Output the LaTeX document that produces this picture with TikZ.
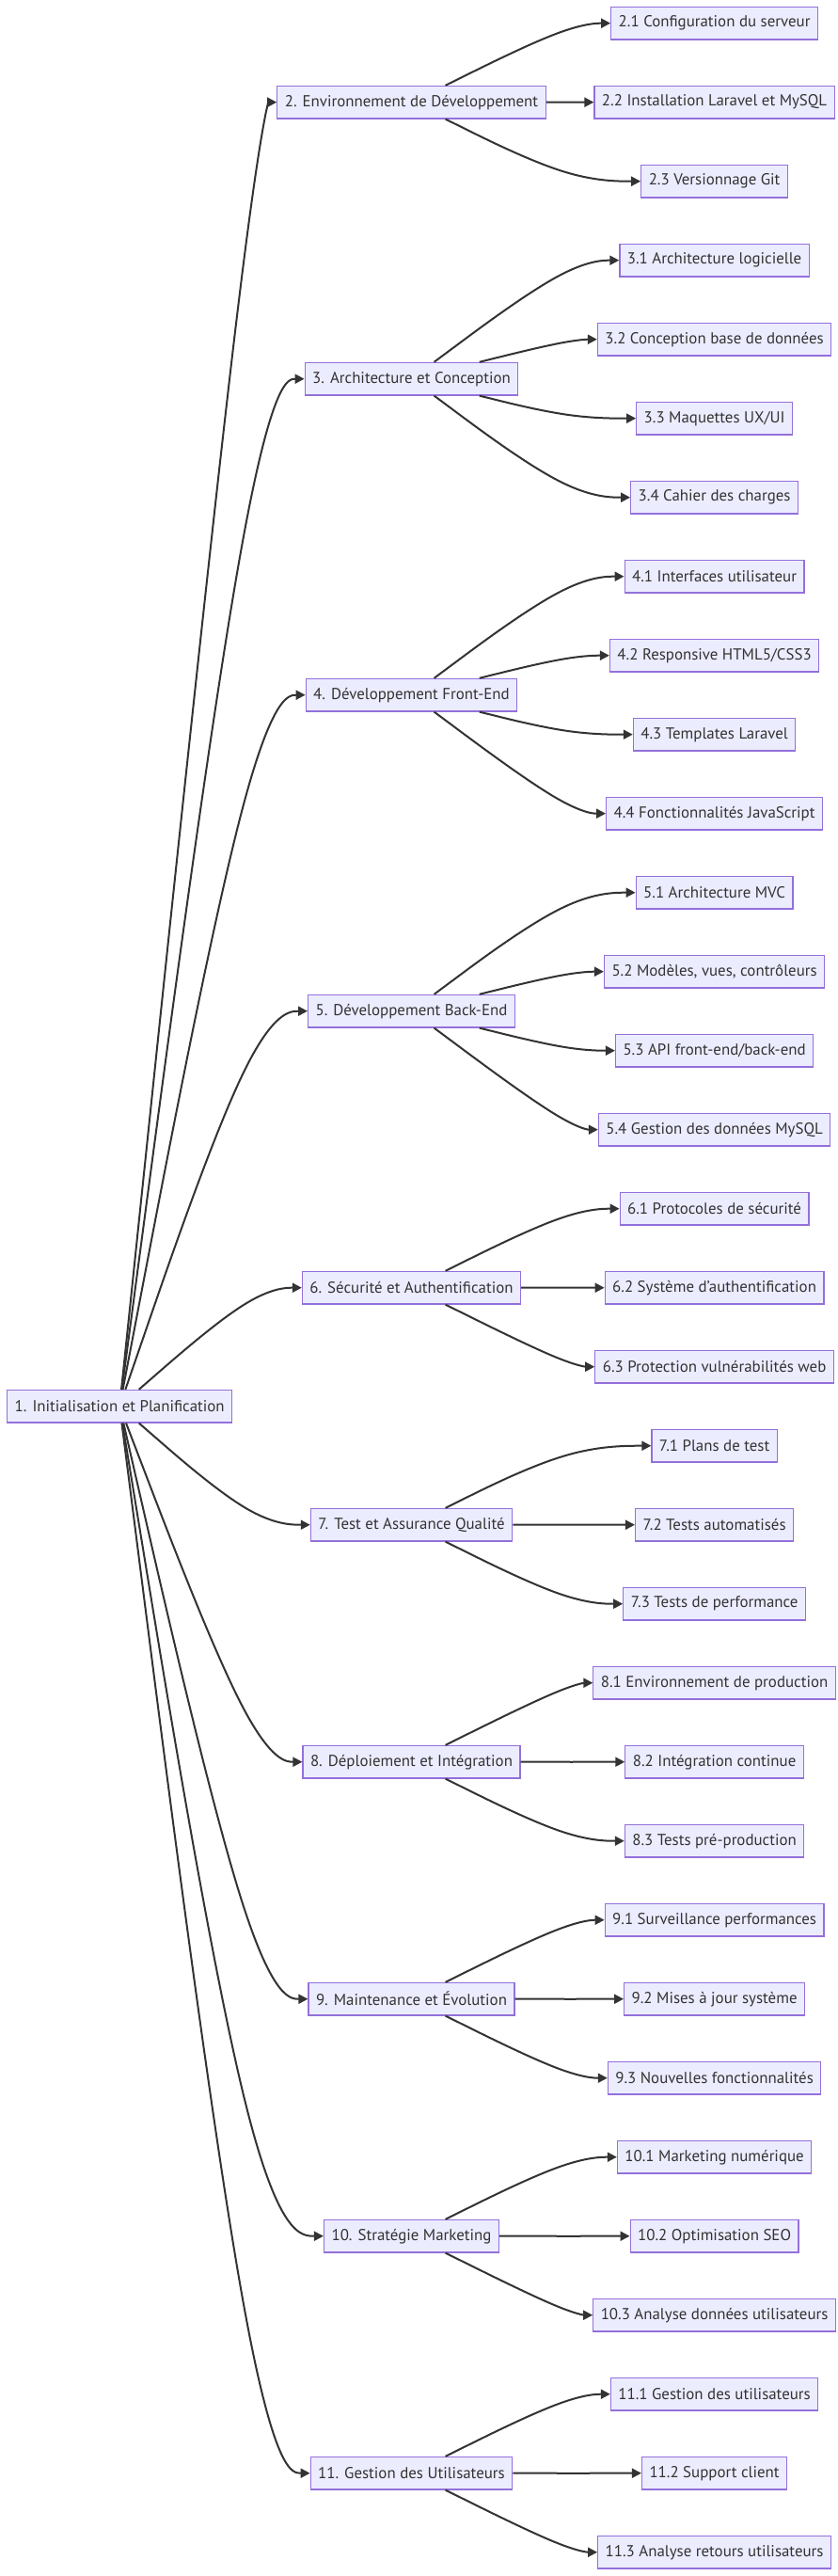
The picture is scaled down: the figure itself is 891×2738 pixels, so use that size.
\documentclass[tikz,border=0pt]{standalone}
\usepackage{fontspec}
\setmainfont{PT Sans}
\usetikzlibrary{arrows.meta,calc}
\definecolor{mfill}{HTML}{ECECFF}
\definecolor{mborder}{HTML}{9370DB}
\definecolor{mtext}{HTML}{333333}
\newlength{\mmref}
\newcommand\mmedge[3]{%
  \coordinate (mmB) at (#2.west -| #3);
  \path (#1) -- (mmB) coordinate[pos=0] (mmA);
  \draw[mmline] (mmA) -- ($(mmA)!1/6!(mmB)$)
    .. controls ($(mmA)!1/3!(mmB)$) and ($(mmA)!2/3!(mmB)$)
    .. ($0.16667*(mmA)+0.66667*(mmB)+0.16667*(#2.west)$)
    .. controls ($(mmB)!1/3!(#2.west)$) and ($(mmB)!2/3!(#2.west)$) .. (#2.west);
}
\begin{document}
\settowidth{\mmref}{\fontsize{10pt}{12pt}\selectfont 1. Initialisation et Planification}%
\pgfmathsetmacro{\mmfs}{2230/\mmref}%
\begin{tikzpicture}[x=1pt,y=-1pt]
\tikzset{
  box/.style={draw=mborder, fill=mfill, line width=1.2pt, text=mtext,
    font=\fontsize{\mmfs pt}{\mmfs pt}\selectfont, inner xsep=8pt, inner ysep=0pt,
    minimum height=34.6pt, anchor=center},
  mmline/.style={draw=mtext, line width=2pt, -{Triangle[length=10pt,width=10pt]}}
}
\useasboundingbox (0,0) rectangle (891,2738);
\coordinate (g1) at (272,0);
\coordinate (g2) at (607,0);
% level 1
\node[box] (n1) at (127.2,1494.7) {1. Initialisation et Planification};
% level 2
\node[box] (n2) at (437.5,108.7) {2. Environnement de Développement};
\node[box] (n3) at (437.5,402.7) {3. Architecture et Conception};
\node[box] (n4) at (437.5,738.7) {4. Développement Front-End};
\node[box] (n5) at (437.5,1074.7) {5. Développement Back-End};
\node[box] (n6) at (437.5,1368.7) {6. Sécurité et Authentification};
\node[box] (n7) at (437.5,1620.7) {7. Test et Assurance Qualité};
\node[box] (n8) at (437.5,1872.7) {8. Déploiement et Intégration};
\node[box] (n9) at (437.5,2124.7) {9. Maintenance et Évolution};
\node[box] (n10) at (437.5,2376.7) {10. Stratégie Marketing};
\node[box] (n11) at (437.5,2628.7) {11. Gestion des Utilisateurs};
% level 3
\node[box] (n21) at (759.6,24.7) {2.1 Configuration du serveur};
\node[box] (n22) at (759.6,108.7) {2.2 Installation Laravel et MySQL};
\node[box] (n23) at (759.6,192.7) {2.3 Versionnage Git};
\node[box] (n31) at (759.6,276.7) {3.1 Architecture logicielle};
\node[box] (n32) at (759.6,360.7) {3.2 Conception base de données};
\node[box] (n33) at (759.6,444.7) {3.3 Maquettes UX/UI};
\node[box] (n34) at (759.6,528.7) {3.4 Cahier des charges};
\node[box] (n41) at (759.6,612.7) {4.1 Interfaces utilisateur};
\node[box] (n42) at (759.6,696.7) {4.2 Responsive HTML5/CSS3};
\node[box] (n43) at (759.6,780.7) {4.3 Templates Laravel};
\node[box] (n44) at (759.6,864.7) {4.4 Fonctionnalités JavaScript};
\node[box] (n51) at (759.6,948.7) {5.1 Architecture MVC};
\node[box] (n52) at (759.6,1032.7) {5.2 Modèles, vues, contrôleurs};
\node[box] (n53) at (759.6,1116.7) {5.3 API front-end/back-end};
\node[box] (n54) at (759.6,1200.7) {5.4 Gestion des données MySQL};
\node[box] (n61) at (759.6,1284.7) {6.1 Protocoles de sécurité};
\node[box] (n62) at (759.6,1368.7) {6.2 Système d{\char39}authentification};
\node[box] (n63) at (759.6,1452.7) {6.3 Protection vulnérabilités web};
\node[box] (n71) at (759.6,1536.7) {7.1 Plans de test};
\node[box] (n72) at (759.6,1620.7) {7.2 Tests automatisés};
\node[box] (n73) at (759.6,1704.7) {7.3 Tests de performance};
\node[box] (n81) at (759.6,1788.7) {8.1 Environnement de production};
\node[box] (n82) at (759.6,1872.7) {8.2 Intégration continue};
\node[box] (n83) at (759.6,1956.7) {8.3 Tests pré-production};
\node[box] (n91) at (759.6,2040.7) {9.1 Surveillance performances};
\node[box] (n92) at (759.6,2124.7) {9.2 Mises à jour système};
\node[box] (n93) at (759.6,2208.7) {9.3 Nouvelles fonctionnalités};
\node[box] (n101) at (759.6,2292.7) {10.1 Marketing numérique};
\node[box] (n102) at (759.6,2376.7) {10.2 Optimisation SEO};
\node[box] (n103) at (759.6,2460.7) {10.3 Analyse données utilisateurs};
\node[box] (n111) at (759.6,2544.7) {11.1 Gestion des utilisateurs};
\node[box] (n112) at (759.6,2628.7) {11.2 Support client};
\node[box] (n113) at (759.6,2712.7) {11.3 Analyse retours utilisateurs};
% edges level 1 -> 2
\foreach \t in {n2,n3,n4,n5,n6,n7,n8,n9,n10,n11}{\mmedge{n1}{\t}{g1}}
% edges level 2 -> 3
\foreach \s/\t in {n2/n21,n2/n22,n2/n23,n3/n31,n3/n32,n3/n33,n3/n34,
  n4/n41,n4/n42,n4/n43,n4/n44,n5/n51,n5/n52,n5/n53,n5/n54,
  n6/n61,n6/n62,n6/n63,n7/n71,n7/n72,n7/n73,n8/n81,n8/n82,n8/n83,
  n9/n91,n9/n92,n9/n93,n10/n101,n10/n102,n10/n103,n11/n111,n11/n112,n11/n113}{\mmedge{\s}{\t}{g2}}
\end{tikzpicture}
\end{document}
